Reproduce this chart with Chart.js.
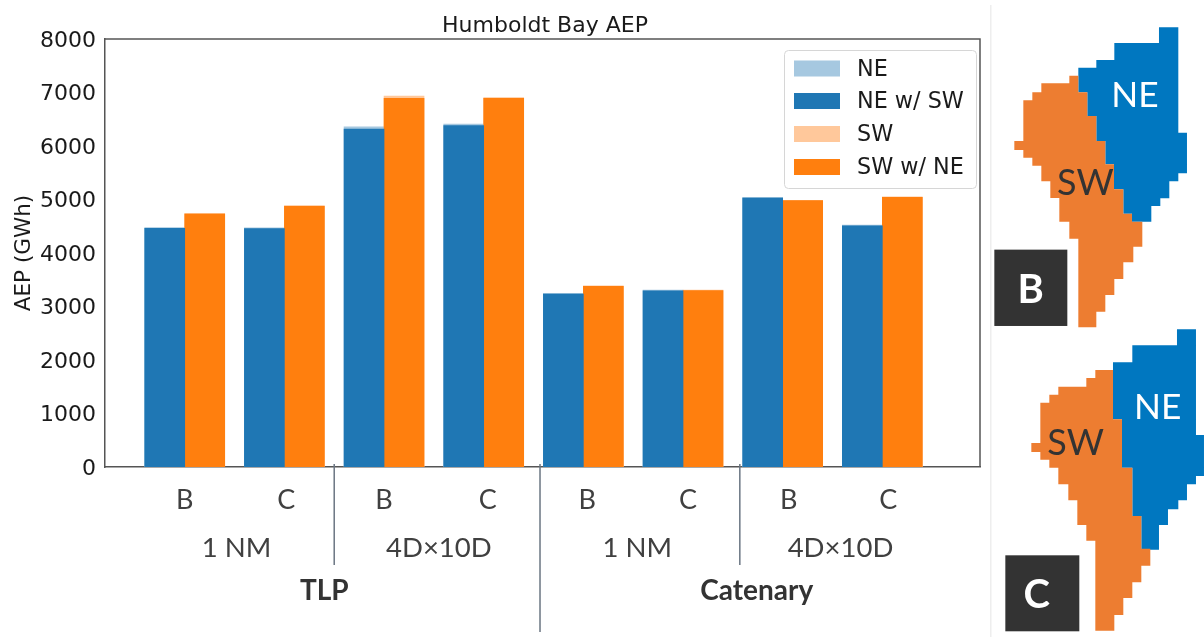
<!DOCTYPE html>
<html>
<head>
<meta charset="utf-8">
<script src="https://cdn.jsdelivr.net/npm/chart.js@4"></script>
<style>
html,body{margin:0;padding:0;background:#fff;width:1204px;height:637px;overflow:hidden}
#wrap{position:relative;width:1204px;height:637px}
canvas{position:absolute;left:0;top:0}
svg{position:absolute;left:0;top:0}
</style>
</head>
<body>
<div id="wrap">
<canvas id="c" width="1204" height="637"></canvas>
<svg width="1204" height="637" viewBox="0 0 1204 637" font-family="Lato">
  <rect x="990" y="5" width="1.5" height="632" fill="#eeeeee"/>
  <g transform="translate(990,0) scale(0.3333)">
    <polygon fill="#0077c0" points="507,82 565,82 565,398 591,398 591,520 565,520 565,544 538,544 538,595 511,595 511,618 484,618 484,665 426,665 426,641 400,641 400,568 372,568 372,493 346,493 346,423 319,423 319,348 292,348 292,277 265,277 265,203 319,203 319,180 373,180 373,129 507,129"/>
    <polygon fill="#ed7d31" points="238,227 265,227 265,277 292,277 292,348 319,348 319,423 346,423 346,493 372,493 372,568 400,568 400,641 426,641 426,665 457,665 457,740 430,740 430,787 400,787 400,837 373,837 373,885 346,885 346,935 319,935 319,982 265,982 265,716 238,716 238,665 208,665 208,594 181,594 181,544 154,544 154,497 127,497 127,473 100,473 100,450 73,450 73,423 100,423 100,301 127,301 127,277 154,277 154,250 238,250"/>
    <text x="435" y="322" font-size="106" fill="#ffffff" text-anchor="middle">NE</text>
    <text x="286" y="584" font-size="108" fill="#333333" text-anchor="middle">SW</text>
    <rect x="13" y="749" width="219" height="229" fill="#333333"/>
    <text x="122" y="908" font-size="120" font-weight="700" fill="#ffffff" text-anchor="middle">B</text>
  </g>
  <g transform="translate(990,320) scale(0.3333)">
    <polygon fill="#0077c0" points="561,28 618,28 618,345 642,345 642,468 618,468 618,493 591,493 591,541 565,541 565,568 534,568 534,615 507,615 507,689 454,689 454,588 427,588 427,443 396,443 396,298 369,298 369,127 427,127 427,76 561,76"/>
    <polygon fill="#ed7d31" points="316,150 369,150 369,298 396,298 396,443 427,443 427,588 454,588 454,686 481,686 481,737 454,737 454,787 427,787 427,834 400,834 400,885 373,885 373,932 316,932 316,662 289,662 289,615 262,615 262,541 235,541 235,493 205,493 205,443 178,443 178,419 151,419 151,396 124,396 124,369 151,369 151,248 178,248 178,224 205,224 205,200 289,200 289,174 316,174"/>
    <text x="503" y="297" font-size="106" fill="#ffffff" text-anchor="middle">NE</text>
    <text x="257" y="405" font-size="108" fill="#333333" text-anchor="middle">SW</text>
    <rect x="46" y="706" width="222" height="228" fill="#333333"/>
    <text x="140" y="864" font-size="120" font-weight="700" fill="#ffffff" text-anchor="middle">C</text>
  </g>
</svg>
</div>
<script>
// ---- data ----
const categories = ['B','C','B','C','B','C','B','C'];
const neAlone   = [4475,4470,6360,6410,3245,3305,5040,4520];
const neWithSw  = [4462,4458,6318,6380,3234,3295,5028,4510];
const swAlone   = [4740,4885,6935,6905,3385,3305,4985,5050];
const swWithNe  = [4729,4873,6892,6890,3377,3298,4978,5041];
const yTicks    = [0,1000,2000,3000,4000,5000,6000,7000,8000];
const categoryLabelCentres = [0.0,1.02,2.0,3.04,4.04,5.05,6.06,7.06];
const spacingLabels = ['1 NM','4D×10D','1 NM','4D×10D'];
const spacingCentres = [0.52,2.55,4.54,6.58];
const mooringLabels = ['TLP','Catenary'];
const mooringCentres = [1.4,5.74];
const shortDividers = [1.5,5.57];
const longDivider = 3.565;
const seriesNames = ['NE','NE w/ SW','SW','SW w/ NE'];
const seriesColors = ['#a6c8e0','#1f77b4','#ffc89b','#ff7f0e'];

const PLOT = {left:105, right:980, top:39, bottom:467};
const axisColor = '#555555';
const toPts = arr => arr.map((y,i)=>({x:i,y}));

const extras = {
  id:'extras',
  afterLayout(chart){
    const t = chart.titleBlock;
    if (t){ t.left = PLOT.left; t.right = PLOT.right + 5; }
  },
  afterDraw(chart){
    const {ctx, scales:{x}, chartArea:a} = chart;
    ctx.save();
    // top + right spines
    ctx.strokeStyle = axisColor; ctx.lineWidth = 1.5;
    ctx.beginPath();
    ctx.moveTo(a.left,a.top); ctx.lineTo(a.right,a.top); ctx.lineTo(a.right,a.bottom);
    ctx.stroke();
    // category + group labels
    ctx.textAlign='center'; ctx.textBaseline='middle'; ctx.fillStyle='#404040';
    ctx.font='27px Lato';
    categories.forEach((s,i)=>ctx.fillText(s, x.getPixelForValue(categoryLabelCentres[i]), 500));
    ctx.font='27.5px Lato';
    spacingLabels.forEach((s,i)=>ctx.fillText(s, x.getPixelForValue(spacingCentres[i]), 548));
    ctx.font='700 28px Lato';
    ctx.fillStyle='#333333';
    mooringLabels.forEach((s,i)=>ctx.fillText(s, x.getPixelForValue(mooringCentres[i]), 591));
    // dividers
    ctx.strokeStyle='#6b7683'; ctx.lineWidth=1.5;
    ctx.beginPath();
    shortDividers.forEach(v=>{const p=x.getPixelForValue(v); ctx.moveTo(p,464); ctx.lineTo(p,565);});
    const lp=x.getPixelForValue(longDivider); ctx.moveTo(lp,464); ctx.lineTo(lp,632);
    ctx.stroke();
    // legend
    const lx=784, ly=50, lw=192, lh=138;
    ctx.fillStyle='rgba(255,255,255,0.85)'; ctx.strokeStyle='#d6d6d6'; ctx.lineWidth=1;
    ctx.beginPath(); ctx.roundRect(lx+0.5,ly+0.5,lw,lh,4); ctx.fill(); ctx.stroke();
    ctx.textAlign='left'; ctx.font='22.3px "DejaVu Sans"';
    const rows=[68.5,101,134,167];
    seriesNames.forEach((n,i)=>{
      ctx.fillStyle=seriesColors[i];
      ctx.fillRect(794,rows[i]-8,46,16);
      ctx.fillStyle='#1a1a1a';
      ctx.fillText(n,857,rows[i]+1.5);
    });
    ctx.restore();
  }
};

new Chart(document.getElementById('c'),{
  type:'bar',
  data:{datasets:[
    {label:seriesNames[0],data:toPts(neAlone), backgroundColor:seriesColors[0],stack:'NE',order:2},
    {label:seriesNames[1],data:toPts(neWithSw),backgroundColor:seriesColors[1],stack:'NE',order:1},
    {label:seriesNames[2],data:toPts(swAlone), backgroundColor:seriesColors[2],stack:'SW',order:2},
    {label:seriesNames[3],data:toPts(swWithNe),backgroundColor:seriesColors[3],stack:'SW',order:1}
  ]},
  plugins:[extras],
  options:{
    responsive:false, animation:false,
    barThickness:40,
    layout:{padding:{left:0,right:1204-PLOT.right,top:0,bottom:0}},
    plugins:{
      legend:{display:false},
      tooltip:{enabled:false},
      title:{display:true,text:'Humboldt Bay AEP',color:'#1a1a1a',
        font:{family:'"DejaVu Sans"',size:22,weight:'normal',lineHeight:1},
        padding:{top:15,bottom:2}}
    },
    scales:{
      x:{
        type:'linear', min:-0.8, max:7.98, offset:false,
        grid:{display:false,drawTicks:true,tickLength:6,tickColor:axisColor},
        border:{display:true,color:axisColor,width:1.5},
        afterBuildTicks(s){ s.ticks = categories.map((_,i)=>({value:i})); },
        afterFit(s){ s.height = 637-PLOT.bottom; },
        ticks:{display:false}
      },
      y:{
        stacked:false, min:0, max:8000,
        grid:{display:false,drawTicks:true,tickLength:6,tickColor:axisColor},
        border:{display:true,color:axisColor,width:1.5},
        afterBuildTicks(s){ s.ticks = yTicks.map(value=>({value})); },
        afterFit(s){ s.width = PLOT.left; },
        title:{display:true,text:'AEP (GWh)',color:'#1a1a1a',
          font:{family:'"DejaVu Sans"',size:21.5,weight:'normal',lineHeight:1},padding:{top:14,bottom:4}},
        ticks:{padding:3,labelOffset:2,color:'#1a1a1a',font:{family:'"DejaVu Sans"',size:22},callback:v=>String(v)}
      }
    }
  }
});
</script>
</body>
</html>
